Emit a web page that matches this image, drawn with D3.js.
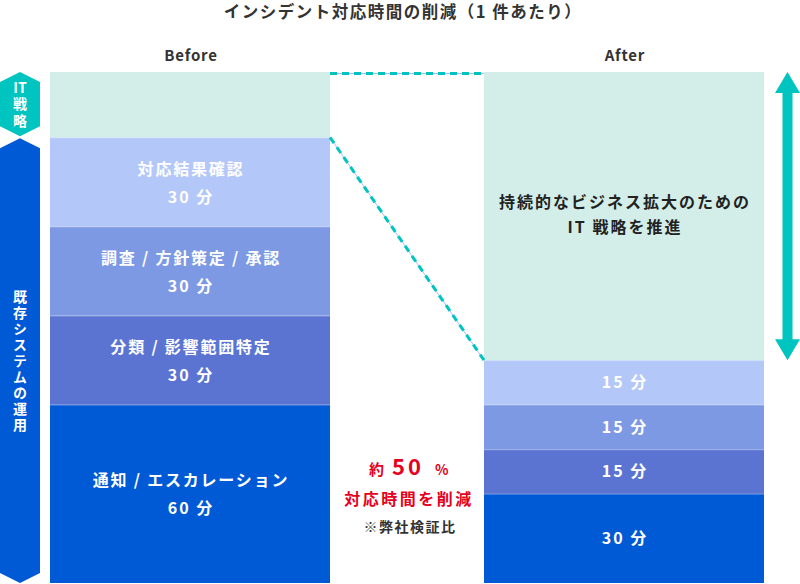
<!DOCTYPE html>
<html><head><meta charset="utf-8">
<script src="https://cdn.jsdelivr.net/npm/d3@7"></script>
<style>
html,body{margin:0;padding:0;background:#fff;}
text{font-family:"Noto Sans CJK JP","Noto Sans",sans-serif;font-weight:700;}
</style></head>
<body>
<svg id="chart" width="800" height="584"></svg>
<script>
const title = "インシデント対応時間の削減（1 件あたり）";
const columns = ["Before", "After"];
const stages = ["通知 / エスカレーション", "分類 / 影響範囲特定", "調査 / 方針策定 / 承認", "対応結果確認", "IT戦略"];
const beforeMinutes = [60, 30, 30, 30, 22];
const afterMinutes = [30, 15, 15, 15, 97];
const unit = "分";
const stageColors = ["#0059d5", "#5b74d2", "#7e99e4", "#b3c8f8", "#d3eee8"];
const afterTopText = ["持続的なビジネス拡大のための", "IT 戦略を推進"];
const sideLabels = ["IT", "戦略", "既存システムの運用"];
const noteLines = ["約", "50", "%", "対応時間を削減", "※弊社検証比"];

const svg = d3.select("#chart");
const total = d3.sum(beforeMinutes);
const y = d3.scaleLinear().domain([0, total]).range([583, 72]);
const x = d3.scaleBand().domain(columns).range([50, 764]).paddingInner(0.3548).paddingOuter(0);
const bw = x.bandwidth();

function stackOf(vals){ let acc=0; return vals.map((v,i)=>{const s={i,v,y0:acc,y1:acc+v}; acc+=v; return s;}); }
const data = {Before: stackOf(beforeMinutes), After: stackOf(afterMinutes)};

// title
svg.append("text").attr("x",403).attr("y",18).attr("text-anchor","middle")
  .attr("font-size",16.5).attr("letter-spacing",1.5).attr("fill","#333").text(title);

// column headers
columns.forEach(c=>{
  svg.append("text").attr("x",x(c)+bw/2+1).attr("y",61).attr("text-anchor","middle")
    .attr("font-size",15).attr("letter-spacing",0.8).attr("fill","#333").text(c);
});

// bars
columns.forEach(c=>{
  const g = svg.append("g");
  g.selectAll("rect").data(data[c]).join("rect")
    .attr("x",x(c)).attr("width",bw)
    .attr("y",d=>y(d.y1)).attr("height",d=>y(d.y0)-y(d.y1))
    .attr("fill",d=>stageColors[d.i]);
  g.selectAll("line").data(data[c].slice(1)).join("line")
    .attr("x1",x(c)).attr("x2",x(c)+bw)
    .attr("y1",d=>y(d.y0)+0.5).attr("y2",d=>y(d.y0)+0.5)
    .attr("stroke","#ffffff").attr("stroke-opacity",0.25);
});

// Before labels
data.Before.slice(0,4).forEach(d=>{
  const cy = (y(d.y0)+y(d.y1))/2;
  const cx = x("Before")+bw/2+1;
  svg.append("text").attr("x",cx).attr("y",cy-13).attr("dy","0.35em").attr("text-anchor","middle")
    .attr("font-size",16).attr("letter-spacing",1.8).attr("fill","#fff").text(stages[d.i]);
  svg.append("text").attr("x",cx).attr("y",cy+15).attr("dy","0.35em").attr("text-anchor","middle")
    .attr("font-size",16).attr("letter-spacing",2).attr("fill","#fff").text(d.v+" "+unit);
});
// After labels
data.After.slice(0,4).forEach(d=>{
  const cy = (y(d.y0)+y(d.y1))/2;
  const cx = x("After")+bw/2+1;
  svg.append("text").attr("x",cx).attr("y",cy).attr("dy","0.35em").attr("text-anchor","middle")
    .attr("font-size",16).attr("letter-spacing",2).attr("fill","#fff").text(d.v+" "+unit);
});
{
  const d = data.After[4];
  const cy = (y(d.y0)+y(d.y1))/2;
  const cx = x("After")+bw/2+1;
  afterTopText.forEach((t,k)=>{
    svg.append("text").attr("x",cx).attr("y",cy-14+k*25).attr("dy","0.35em").attr("text-anchor","middle")
      .attr("font-size",16).attr("letter-spacing",2).attr("fill","#222").text(t);
  });
}

// dashed connectors
const bTop = data.Before[4], aTop = data.After[4];
const conn = [
  [[x("Before")+bw, y(bTop.y1)+1.5],[x("After"), y(aTop.y1)+1.5]],
  [[x("Before")+bw, y(bTop.y0)],[x("After"), y(aTop.y0)]]
];
conn.forEach(p=>{
  svg.append("line").attr("x1",p[0][0]).attr("y1",p[0][1]).attr("x2",p[1][0]).attr("y2",p[1][1])
    .attr("stroke","#a9bff2").attr("stroke-width",1);
  svg.append("line").attr("x1",p[0][0]).attr("y1",p[0][1]).attr("x2",p[1][0]).attr("y2",p[1][1])
    .attr("stroke","#00c4c0").attr("stroke-width",3).attr("stroke-dasharray","7,5");
});

// double arrow
{
  const ax = 787.5, t = y(aTop.y1), b = y(aTop.y0);
  const hw = 12.5, hh = 21, sw = 5;
  const pts = [[ax,t],[ax+hw,t+hh],[ax+sw,t+hh],[ax+sw,b-hh],[ax+hw,b-hh],[ax,b],[ax-hw,b-hh],[ax-sw,b-hh],[ax-sw,t+hh],[ax-hw,t+hh]];
  svg.append("polygon").attr("points",pts.map(p=>p.join(",")).join(" ")).attr("fill","#00c4c0");
}

// side badges
function hexPath(x0,x1,t,b,p){
  const m=(x0+x1)/2;
  return `M${m},${t} L${x1},${t+p} L${x1},${b-p} L${m},${b} L${x0},${b-p} L${x0},${t+p} Z`;
}
svg.append("path").attr("d",hexPath(0,40,y(bTop.y1),y(bTop.y0)-1,10)).attr("fill","#00c4c0");
svg.append("path").attr("d",hexPath(0,40,y(bTop.y0)+1,583,10)).attr("fill","#0059d5");
svg.append("text").attr("x",20).attr("y",88).attr("dy","0.35em").attr("text-anchor","middle")
  .attr("font-size",14).attr("fill","#fff").text(sideLabels[0]);
svg.append("text").attr("x",20).attr("y",114).attr("text-anchor","middle")
  .style("writing-mode","vertical-rl").attr("font-size",14).attr("letter-spacing",3.5)
  .attr("fill","#fff").text(sideLabels[1]);
svg.append("text").attr("x",20).attr("y",362).attr("text-anchor","middle")
  .style("writing-mode","vertical-rl").attr("font-size",14).attr("letter-spacing",2)
  .attr("fill","#fff").text(sideLabels[2]);

// middle note
{
  svg.append("text").attr("x",369).attr("y",475).attr("fill","#e60020")
    .attr("font-size",15).text(noteLines[0]);
  svg.append("text").attr("x",392).attr("y",475).attr("fill","#e60020")
    .attr("font-size",22).attr("letter-spacing",3).text(noteLines[1]);
  svg.append("text").attr("x",435).attr("y",475).attr("fill","#e60020")
    .attr("font-size",14).text(noteLines[2]);
  svg.append("text").attr("x",409).attr("y",505).attr("text-anchor","middle").attr("fill","#e60020")
    .attr("font-size",16).attr("letter-spacing",2.5).text(noteLines[3]);
  svg.append("text").attr("x",410).attr("y",532).attr("text-anchor","middle").attr("fill","#333")
    .attr("font-size",14).attr("letter-spacing",1.5).attr("font-weight",500).text(noteLines[4]);
}
</script>
</body></html>
